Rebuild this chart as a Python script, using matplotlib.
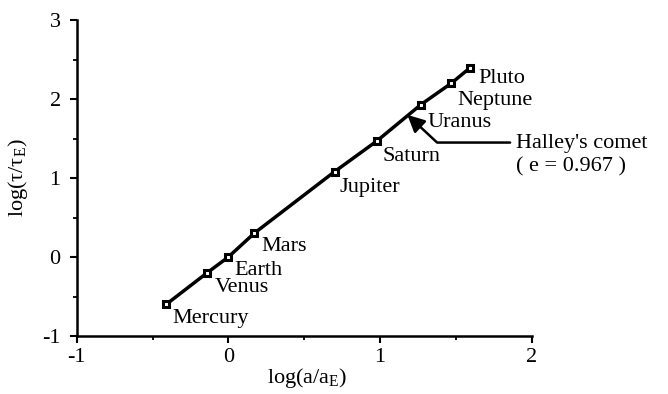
import numpy as np
import matplotlib
matplotlib.use("Agg")
import matplotlib.pyplot as plt

# data (log10 of semi-major axis and period, Earth units)
planets = ["Mercury", "Venus", "Earth", "Mars", "Jupiter", "Saturn", "Uranus", "Neptune", "Pluto"]
log_a = [-0.41, -0.14, 0.0, 0.17, 0.70, 0.98, 1.27, 1.47, 1.59]
log_tau = [-0.60, -0.20, 0.0, 0.30, 1.08, 1.47, 1.93, 2.20, 2.39]
halley_log_a = 1.18
halley_log_tau = 1.80
halley_text = "Halley's comet\n( e = 0.967 )"

x_ticks = [-1, 0, 1, 2]
y_ticks = [-1, 0, 1, 2, 3]

# label offsets in points (layout only)
label_offsets = [(4.3, -10), (5.8, -10.8), (4.3, -10), (5, -9.4), (3.6, -11.5),
                 (4.3, -11.5), (5, -13), (4.3, -12.2), (6.5, -7.2)]

plt.rcParams['font.family'] = ['Liberation Serif', 'DejaVu Serif']
plt.rcParams['font.size'] = 16
plt.rcParams['axes.unicode_minus'] = False
plt.rcParams['mathtext.fontset'] = 'custom'
plt.rcParams['mathtext.rm'] = 'Liberation Serif'
plt.rcParams['mathtext.it'] = 'Liberation Serif'

fig = plt.figure(figsize=(6.68, 3.94), dpi=100)
ax = fig.add_axes([0.1148, 0.1472, 0.6812, 0.8020])

ax.plot(log_a, log_tau, color='black', linewidth=2.5, marker='s', markersize=5,
        markerfacecolor='white', markeredgecolor='black', markeredgewidth=2.2)

for name, xa, yt, off in zip(planets, log_a, log_tau, label_offsets):
    ax.annotate(name, xy=(xa, yt), xytext=off, textcoords='offset points',
                ha='left', va='center', fontsize=16)

# Halley's comet leader with elbow
ax.annotate(halley_text, xy=(halley_log_a, halley_log_tau), xytext=(1.894, 1.29),
            textcoords='data', ha='left', va='center', fontsize=16, linespacing=1.25,
            arrowprops=dict(arrowstyle='-|>,head_length=0.65,head_width=0.32',
                            connectionstyle='angle,angleA=0,angleB=-43,rad=0',
                            color='black', linewidth=1.8, shrinkA=2, shrinkB=0,
                            relpos=(0, 0.8), mutation_scale=16))

ax.set_xlim(-1, 2)
ax.set_ylim(-1, 3)
ax.set_xticks(x_ticks)
ax.set_yticks(y_ticks)
ax.set_xticks(np.arange(-0.5, 2, 1), minor=True)
ax.set_yticks(np.arange(-0.5, 3, 1), minor=True)

for side in ['top', 'right']:
    ax.spines[side].set_visible(False)
for side in ['left', 'bottom']:
    ax.spines[side].set_linewidth(1.8)

ax.tick_params(which='major', direction='out', length=5, width=1.5, labelsize=16)
ax.tick_params(axis='x', which='major', pad=3.5)
ax.tick_params(axis='y', which='major', pad=6.5)
ax.tick_params(which='minor', direction='out', length=3, width=1.3)

ax.set_xlabel(r'$\mathrm{log(a/a_E)}$', fontsize=16)
ax.set_ylabel(r'$\mathrm{log(\tau/\tau_E)}$', fontsize=16)
ax.xaxis.set_label_coords(0.506, -0.095)
ax.yaxis.set_label_coords(-0.102, 0.5)

fig.savefig("out.png", dpi=100)
